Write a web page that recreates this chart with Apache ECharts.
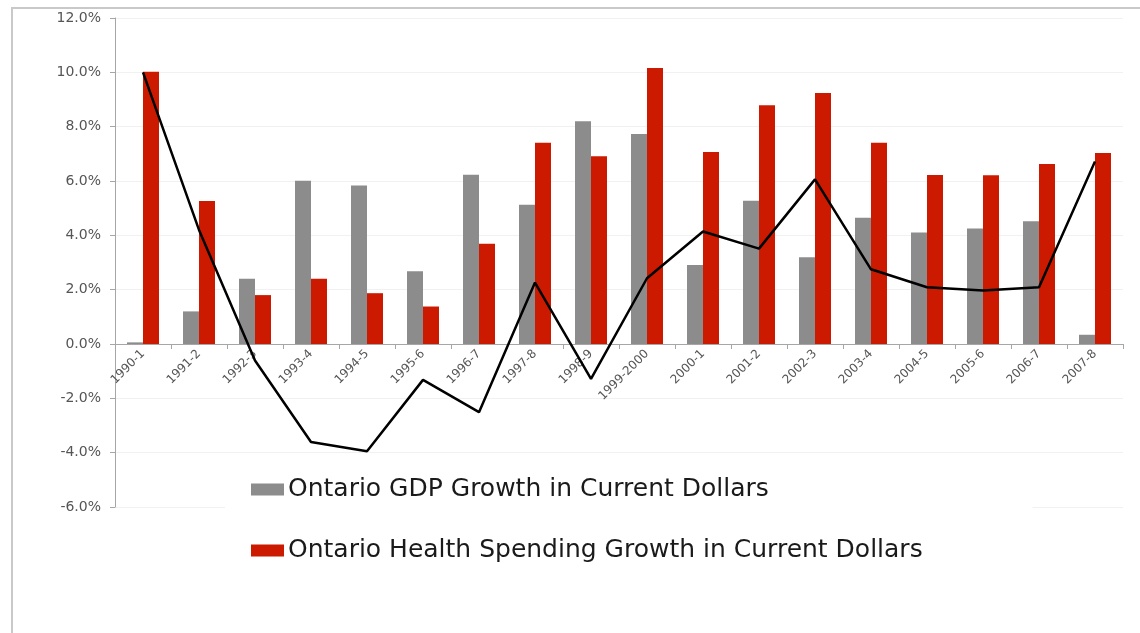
<!DOCTYPE html>
<html>
<head>
<meta charset="utf-8">
<script src="https://cdn.jsdelivr.net/npm/echarts@6/dist/echarts.min.js"></script>
<style>
  html, body { margin: 0; padding: 0; background: #fff; }
  #frame { position: absolute; left: 11px; top: 7px; width: 1129px; height: 626px;
           border-left: 2px solid #c9c9c9; border-top: 2px solid #c9c9c9; box-sizing: border-box; }
  #chart { position: absolute; left: 0; top: 0; width: 1140px; height: 633px; }
</style>
</head>
<body>
<div id="frame"></div>
<div id="chart"></div>
<script>
const categories = ['1990-1','1991-2','1992-3','1993-4','1994-5','1995-6','1996-7','1997-8','1998-9',
  '1999-2000','2000-1','2001-2','2002-3','2003-4','2004-5','2005-6','2006-7','2007-8'];
const gdpGrowth = [0.06, 1.2, 2.4, 6.01, 5.83, 2.68, 6.23, 5.13, 8.2, 7.73, 2.91, 5.27, 3.19, 4.65, 4.1, 4.25, 4.52, 0.34];
const healthGrowth = [10.02, 5.26, 1.8, 2.4, 1.87, 1.38, 3.69, 7.41, 6.91, 10.16, 7.07, 8.79, 9.24, 7.41, 6.22, 6.21, 6.63, 7.03];
const gapLine = [10.0, 4.2, -0.61, -3.61, -3.95, -1.32, -2.51, 2.26, -1.28, 2.42, 4.14, 3.51, 6.06, 2.75, 2.09, 1.97, 2.09, 6.72];
const seriesNames = ['Ontario GDP Growth in Current Dollars', 'Ontario Health Spending Growth in Current Dollars'];
const yTicks = { min: -6, max: 12, interval: 2 };

const gridTop = 18, gridBottom = 126, chartH = 633;
const gridH = chartH - gridTop - gridBottom;
const zeroOffset = gridH * (0 - yTicks.min) / (yTicks.max - yTicks.min);

const chart = echarts.init(document.getElementById('chart'), null, { renderer: 'canvas' });
chart.setOption({
  backgroundColor: 'transparent',
  animation: false,
  textStyle: { fontFamily: 'DejaVu Sans' },
  grid: { left: 115, right: 17, top: gridTop, bottom: gridBottom, containLabel: false },
  legend: {
    data: seriesNames,
    orient: 'vertical',
    left: 225, top: 458,
    backgroundColor: '#ffffff',
    padding: [19, 110, 22, 26],
    itemWidth: 33, itemHeight: 12, itemGap: 36,
    icon: 'rect',
    textStyle: { fontFamily: 'DejaVu Sans', fontSize: 25, color: '#1a1a1a',
                 padding: [0, 0, 0, -1] },
    z: 1
  },
  xAxis: {
    type: 'category',
    data: categories,
    offset: -zeroOffset,
    axisLine: { onZero: false, lineStyle: { color: '#a6a6a6', width: 1 } },
    axisTick: { show: true, length: 5, lineStyle: { color: '#a6a6a6' } },
    axisLabel: { rotate: 45, fontSize: 12, color: '#555', margin: 8, interval: 0 },
    splitLine: { show: false }
  },
  yAxis: {
    type: 'value',
    min: yTicks.min, max: yTicks.max, interval: yTicks.interval,
    axisLine: { show: true, lineStyle: { color: '#a6a6a6', width: 1 } },
    axisTick: { show: true, length: 5, lineStyle: { color: '#a6a6a6' } },
    axisLabel: { fontSize: 14, color: '#555', margin: 14, formatter: v => v.toFixed(1) + '%' },
    splitLine: { show: true, lineStyle: { color: '#f1f1f1', width: 1 } }
  },
  series: [
    { name: seriesNames[0], type: 'bar', data: gdpGrowth, barWidth: 16, barGap: '0%',
      itemStyle: { color: '#8c8c8c' }, z: 2 },
    { name: seriesNames[1], type: 'bar', data: healthGrowth, barWidth: 16,
      itemStyle: { color: '#cc1a00' }, z: 2 },
    { name: 'Gap', type: 'line', data: gapLine, symbol: 'none', z: 5,
      lineStyle: { color: '#000', width: 2.5 } }
  ]
});
</script>
</body>
</html>
